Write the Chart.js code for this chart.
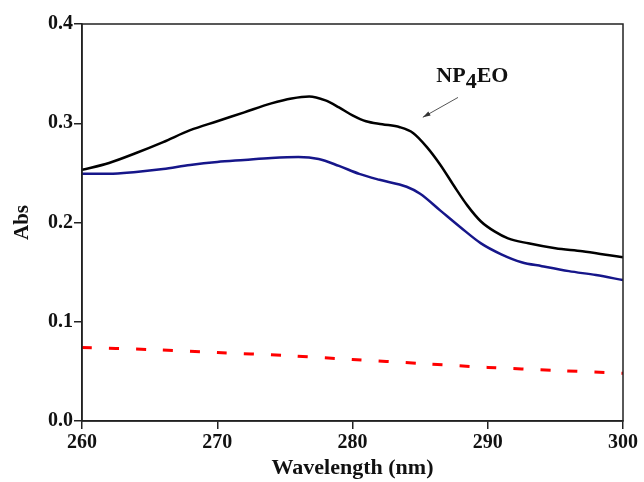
<!DOCTYPE html>
<html>
<head>
<meta charset="utf-8">
<script src="https://cdn.jsdelivr.net/npm/chart.js@4/dist/chart.umd.min.js"></script>
<style>
html, body { margin: 0; padding: 0; background: #fff; }
#wrap { width: 644px; height: 482px; }
</style>
</head>
<body>
<div id="wrap"><canvas id="absChart" width="644" height="482"></canvas></div>
<script>
/* spectra */
const wlNP = [260, 262, 264, 266, 268, 270, 272, 274, 275.5, 276.8, 278, 279, 280, 281, 282.2, 283.5, 284.5, 285.5, 286.5, 287.5, 288.5, 289.5, 290.5, 291.5, 293, 295, 297, 299, 300];
const absNP = [0.253, 0.260, 0.270, 0.281, 0.293, 0.302, 0.311, 0.320, 0.325, 0.327, 0.323, 0.316, 0.308, 0.302, 0.299, 0.296, 0.290, 0.276, 0.258, 0.237, 0.217, 0.201, 0.191, 0.184, 0.179, 0.174, 0.171, 0.167, 0.165];

const wlBlue = [260, 262, 264, 266, 268, 270, 272, 274, 276, 277.5, 279, 280.5, 282, 284, 285, 286.5, 288, 289.5, 291, 292.5, 294, 296, 298, 300];
const absBlue = [0.249, 0.249, 0.251, 0.254, 0.258, 0.261, 0.263, 0.265, 0.266, 0.264, 0.257, 0.249, 0.243, 0.236, 0.229, 0.212, 0.195, 0.179, 0.168, 0.160, 0.156, 0.151, 0.147, 0.142];

const wlBase = [260, 265, 270, 275, 280, 285, 290, 295, 300];
const absBase = [0.074, 0.072, 0.069, 0.066, 0.062, 0.058, 0.054, 0.051, 0.048];

const xTicks = [260, 270, 280, 290, 300];
const yTicks = [0.0, 0.1, 0.2, 0.3, 0.4];

// label and arrow anchor (data units)
const labelAt = { x: 286.2, y: 0.342 };
const arrowFrom = { x: 287.8, y: 0.326 };
const arrowTo = { x: 285.2, y: 0.306 };

function pts(xs, ys) {
  return xs.map((x, i) => ({ x: x, y: ys[i] }));
}

const serif = "'Liberation Serif', 'Times New Roman', serif";

const framePlugin = {
  id: 'frame',
  afterDatasetsDraw(chart) {
    const { ctx, chartArea: a, scales } = chart;
    ctx.save();
    ctx.strokeStyle = '#222';
    ctx.lineWidth = 1.5;
    ctx.strokeRect(a.left, a.top, a.right - a.left, a.bottom - a.top);

    // arrow
    const x1 = scales.x.getPixelForValue(arrowFrom.x), y1 = scales.y.getPixelForValue(arrowFrom.y);
    const x2 = scales.x.getPixelForValue(arrowTo.x), y2 = scales.y.getPixelForValue(arrowTo.y);
    ctx.strokeStyle = '#555';
    ctx.fillStyle = '#333';
    ctx.lineWidth = 1;
    ctx.beginPath();
    ctx.moveTo(x1, y1);
    ctx.lineTo(x2, y2);
    ctx.stroke();
    const ang = Math.atan2(y2 - y1, x2 - x1);
    ctx.beginPath();
    ctx.moveTo(x2, y2);
    ctx.lineTo(x2 - 8 * Math.cos(ang - 0.3), y2 - 8 * Math.sin(ang - 0.3));
    ctx.lineTo(x2 - 8 * Math.cos(ang + 0.3), y2 - 8 * Math.sin(ang + 0.3));
    ctx.closePath();
    ctx.fill();

    // NP4EO label
    let lx = scales.x.getPixelForValue(labelAt.x);
    const ly = scales.y.getPixelForValue(labelAt.y);
    ctx.fillStyle = '#111';
    ctx.textBaseline = 'alphabetic';
    ctx.textAlign = 'left';
    ctx.font = 'bold 22px ' + serif;
    ctx.fillText('NP', lx, ly);
    lx += ctx.measureText('NP').width;
    ctx.fillText('4', lx, ly + 6);
    lx += ctx.measureText('4').width;
    ctx.fillText('EO', lx, ly);
    ctx.restore();
  }
};

new Chart(document.getElementById('absChart'), {
  type: 'line',
  data: {
    datasets: [
      {
        label: 'NP4EO',
        data: pts(wlNP, absNP),
        borderColor: '#000000',
        borderWidth: 2.5,
        pointRadius: 0,
        cubicInterpolationMode: 'monotone'
      },
      {
        label: 'sample',
        data: pts(wlBlue, absBlue),
        borderColor: '#16168a',
        borderWidth: 2.5,
        pointRadius: 0,
        cubicInterpolationMode: 'monotone'
      },
      {
        label: 'baseline',
        data: pts(wlBase, absBase),
        borderColor: '#ff0000',
        borderWidth: 3,
        borderDash: [10, 17],
        pointRadius: 0,
        tension: 0.3
      }
    ]
  },
  options: {
    responsive: false,
    animation: false,
    layout: { padding: { top: 24, right: 21, left: 10, bottom: 0 } },
    plugins: {
      legend: { display: false },
      tooltip: { enabled: false }
    },
    scales: {
      x: {
        type: 'linear',
        min: 260,
        max: 300,
        afterBuildTicks: (s) => { s.ticks = xTicks.map(v => ({ value: v })); },
        afterFit: (s) => { s.height = 61; },
        grid: { drawOnChartArea: false, drawTicks: true, tickLength: 8, color: '#222', lineWidth: 1.5 },
        border: { display: true, color: '#222', width: 1.5 },
        ticks: {
          color: '#111',
          padding: 2,
          font: { family: serif, size: 20, weight: 'bold' }
        },
        title: {
          display: true,
          text: 'Wavelength (nm)',
          color: '#111',
          padding: { top: 6, bottom: 0 },
          font: { family: serif, size: 22, weight: 'bold' }
        }
      },
      y: {
        min: 0,
        max: 0.4,
        afterBuildTicks: (s) => { s.ticks = yTicks.map(v => ({ value: v })); },
        afterFit: (s) => { s.width = 72; },
        grid: { drawOnChartArea: false, drawTicks: true, tickLength: 8, color: '#222', lineWidth: 1.5 },
        border: { display: true, color: '#222', width: 1.5 },
        ticks: {
          color: '#111',
          padding: 1,
          font: { family: serif, size: 20, weight: 'bold' },
          callback: (v) => Number(v).toFixed(1)
        },
        title: {
          display: true,
          text: 'Abs',
          color: '#111',
          padding: { top: 0, bottom: 4 },
          font: { family: serif, size: 21, weight: 'bold' }
        }
      }
    }
  },
  plugins: [framePlugin]
});
</script>
</body>
</html>
